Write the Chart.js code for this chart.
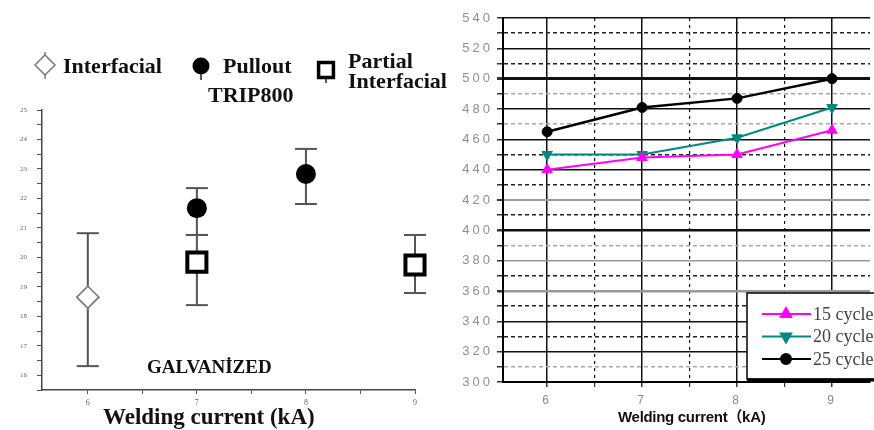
<!DOCTYPE html>
<html>
<head>
<meta charset="utf-8">
<script src="https://cdn.jsdelivr.net/npm/chart.js@4.4.0/dist/chart.umd.min.js"></script>
<style>
  html, body { margin: 0; padding: 0; background: #fff; }
  body { width: 874px; height: 430px; overflow: hidden; position: relative; }
  .panel { position: absolute; top: 0; height: 430px; }
  #leftBox { left: 0; width: 460px; }
  #rightBox { left: 440px; width: 437px; }
</style>
</head>
<body>
<div class="panel" id="leftBox"><canvas id="leftChart"></canvas></div>
<div class="panel" id="rightBox"><canvas id="rightChart"></canvas></div>
<script>
// welding current, kA
const currents = [6, 7, 8, 9];

// left panel - TRIP800 galvanized, load by failure mode
const interfacialX = [6];
const interfacialLoad = [18.65];
const interfacialLow = [16.31];
const interfacialHigh = [20.82];

const pulloutX = [7, 8];
const pulloutLoad = [21.67, 22.83];
const pulloutLow = [20.76, 21.81];
const pulloutHigh = [22.35, 23.68];

const partialX = [7, 9];
const partialLoad = [19.84, 19.74];
const partialLow = [18.38, 18.79];
const partialHigh = [20.76, 20.76];

const leftYLabels = [16, 17, 18, 19, 20, 21, 22, 23, 24, 25];

// right panel - three weld times
const cycleNames = ['15 cycles', '20 cycles', '25 cycles'];
const cycles15 = [440, 448, 450, 466];
const cycles20 = [450, 450, 461, 481];
const cycles25 = [465, 481, 487, 500];

const rightYLabels = [300, 320, 340, 360, 380, 400, 420, 440, 460, 480, 500, 520, 540];

// styling of the scanned grid
const greyMajor = [420, 380, 360];
const heavyMajor = { 500: 3, 400: 2.5, 360: 2.5, 420: 2 };
const faintDash = [490, 470, 390, 310];

const pts = (xs, ys) => xs.map((x, i) => ({ x, y: ys[i] }));
const bars = (xs, lo, hi) => xs.flatMap((x, i) => [{ x, y: lo[i] }, { x, y: hi[i] }, { x, y: null }]);

const serif = '"Liberation Serif", "Times New Roman", serif';

// legend + annotations of the left panel
const leftText = {
  id: 'leftText',
  afterDraw(chart) {
    const ctx = chart.ctx;
    const draw = Chart.helpers.drawPoint;
    ctx.save();

    // diamond
    ctx.strokeStyle = '#777';
    ctx.lineWidth = 1.5;
    ctx.beginPath(); ctx.moveTo(45, 52); ctx.lineTo(45, 79); ctx.stroke();
    ctx.fillStyle = '#fff';
    draw(ctx, { pointStyle: 'rectRot', radius: 10, borderWidth: 1.5 }, 45, 65);

    // circle
    ctx.strokeStyle = '#222';
    ctx.beginPath(); ctx.moveTo(201, 66); ctx.lineTo(201, 80); ctx.stroke();
    ctx.fillStyle = '#000';
    draw(ctx, { pointStyle: 'circle', radius: 8.5, borderWidth: 0 }, 201, 66);

    // square
    ctx.beginPath(); ctx.moveTo(326, 70); ctx.lineTo(326, 83); ctx.stroke();
    ctx.fillStyle = '#fff';
    ctx.strokeStyle = '#000';
    ctx.lineWidth = 3.5;
    draw(ctx, { pointStyle: 'rect', radius: 10.5, borderWidth: 3.5 }, 326, 70);

    ctx.fillStyle = '#111';
    ctx.textAlign = 'left';
    ctx.textBaseline = 'alphabetic';
    ctx.font = 'bold 22px ' + serif;
    ctx.fillText('Interfacial', 63, 73);
    ctx.fillText('Pullout', 223, 73);
    ctx.fillText('Partial', 348, 68);
    ctx.fillText('Interfacial', 348, 88);
    ctx.fillText('TRIP800', 208, 102);

    ctx.font = 'bold 19px ' + serif;
    ctx.fillText('GALVANİZED', 147, 373);

    ctx.font = 'bold 23px ' + serif;
    ctx.fillText('Welding current (kA)', 103, 424);
    ctx.restore();
  }
};

new Chart(document.getElementById('leftChart'), {
  type: 'scatter',
  data: {
    datasets: [
      {
        label: 'Interfacial',
        data: pts(interfacialX, interfacialLoad),
        pointStyle: 'rectRot',
        pointRadius: 11,
        pointBorderWidth: 1.8,
        pointBorderColor: '#808080',
        pointBackgroundColor: '#fff',
        clip: false,
        order: 0
      },
      {
        label: 'Pullout',
        data: pts(pulloutX, pulloutLoad),
        pointStyle: 'circle',
        pointRadius: 10,
        pointBorderWidth: 0,
        pointBackgroundColor: '#000',
        clip: false,
        order: 0
      },
      {
        label: 'Partial Interfacial',
        data: pts(partialX, partialLoad),
        pointStyle: 'rect',
        pointRadius: 13.5,
        pointBorderWidth: 4,
        pointBorderColor: '#000',
        pointBackgroundColor: '#fff',
        clip: false,
        order: 0
      },
      {
        label: 'error',
        data: bars(interfacialX, interfacialLow, interfacialHigh)
          .concat(bars(pulloutX, pulloutLow, pulloutHigh))
          .concat(bars(partialX, partialLow, partialHigh)),
        showLine: true,
        spanGaps: false,
        borderColor: '#555',
        borderWidth: 2,
        pointStyle: 'line',
        pointRadius: 11,
        pointBorderColor: '#555',
        pointBorderWidth: 2,
        clip: false,
        order: 1
      }
    ]
  },
  options: {
    responsive: true,
    maintainAspectRatio: false,
    animation: false,
    events: [],
    layout: { padding: { top: 110, right: 45, bottom: 0, left: 0 } },
    plugins: { legend: { display: false }, tooltip: { enabled: false } },
    scales: {
      x: {
        type: 'linear',
        min: 5.58,
        max: 9,
        afterFit: s => { s.height = 40; },
        ticks: {
          stepSize: 0.5,
          includeBounds: false,
          autoSkip: false,
          maxRotation: 0,
          padding: 4,
          color: '#666',
          font: { size: 8, family: serif },
          callback: v => currents.includes(v) ? v : ''
        },
        grid: { drawOnChartArea: false, tickLength: 4, color: '#555' },
        border: { color: '#444', width: 1.5 }
      },
      y: {
        min: 15.5,
        max: 25,
        afterFit: s => { s.width = 42; },
        ticks: {
          stepSize: 0.5,
          autoSkip: false,
          padding: 10,
          color: '#666',
          font: { size: 7, family: serif },
          callback: v => leftYLabels.includes(v) ? v : ''
        },
        grid: { drawOnChartArea: false, tickLength: 5, color: '#555' },
        border: { color: '#444', width: 1.5 }
      }
    }
  },
  plugins: [leftText]
});

// right panel: legend box and axis title
const rightText = {
  id: 'rightText',
  beforeDraw(chart) {
    chart.ctx.letterSpacing = '3px';
  },
  afterDraw(chart) {
    const ctx = chart.ctx;
    ctx.save();
    ctx.letterSpacing = '0px';
    const x0 = 307, y0 = 293, w = 140, h = 86;
    ctx.fillStyle = '#fff';
    ctx.fillRect(x0, y0, w, h);
    ctx.strokeStyle = '#000';
    ctx.lineWidth = 1.5;
    ctx.strokeRect(x0, y0, w, h);
    ctx.lineWidth = 3;
    ctx.beginPath(); ctx.moveTo(x0, y0 + h + 1); ctx.lineTo(x0 + w, y0 + h + 1); ctx.stroke();

    chart.data.datasets.forEach((ds, i) => {
      const y = 314 + i * 22.5;
      ctx.strokeStyle = ds.borderColor;
      ctx.lineWidth = 2;
      ctx.beginPath(); ctx.moveTo(322, y); ctx.lineTo(371, y); ctx.stroke();
      ctx.fillStyle = ds.pointBackgroundColor;
      ctx.strokeStyle = ds.borderColor;
      Chart.helpers.drawPoint(ctx, {
        pointStyle: ds.pointStyle,
        rotation: ds.pointRotation || 0,
        radius: ds.pointRadius,
        borderWidth: 1
      }, 346, y);
      ctx.fillStyle = '#444';
      ctx.font = '18px ' + serif;
      ctx.textBaseline = 'middle';
      ctx.fillText(ds.label, 373, y + 1);
    });

    ctx.fillStyle = '#111';
    ctx.textBaseline = 'alphabetic';
    ctx.font = 'bold 15px "Liberation Sans", "Noto Sans CJK SC", sans-serif';
    ctx.letterSpacing = '-0.3px';
    ctx.fillText('Welding current（kA)', 178, 422);
    ctx.restore();
  }
};

const series = [cycles15, cycles20, cycles25];
const colors = ['#ff00ff', '#00897e', '#000000'];
const styles = ['triangle', 'triangle', 'circle'];
const rotations = [0, 180, 0];
const radii = [6, 6, 5];

new Chart(document.getElementById('rightChart'), {
  type: 'scatter',
  data: {
    datasets: series.map((vals, i) => ({
      label: cycleNames[i],
      data: pts(currents, vals),
      showLine: true,
      borderColor: colors[i],
      borderWidth: i === 2 ? 2.5 : 2,
      pointStyle: styles[i],
      pointRotation: rotations[i],
      pointRadius: radii[i],
      pointBackgroundColor: colors[i],
      pointBorderColor: colors[i],
      pointBorderWidth: 1
    }))
  },
  options: {
    responsive: true,
    maintainAspectRatio: false,
    animation: false,
    events: [],
    layout: { padding: { top: 18, right: 0, bottom: 0, left: 0 } },
    plugins: { legend: { display: false }, tooltip: { enabled: false } },
    scales: {
      x: {
        type: 'linear',
        min: 5.535,
        max: 9.4,
        afterFit: s => { s.height = 48; },
        ticks: {
          stepSize: 0.5,
          includeBounds: false,
          autoSkip: false,
          maxRotation: 0,
          padding: 6,
          color: '#8a8a8a',
          font: { size: 12, family: '"Liberation Sans", Arial, sans-serif' },
          callback: v => currents.includes(v) ? v : ''
        },
        grid: {
          color: '#111',
          lineWidth: c => (c.tick && Number.isInteger(c.tick.value)) ? 1.5 : 1.2,
          tickLength: 5,
          tickColor: '#333',
          tickBorderDash: []
        },
        border: {
          color: '#000',
          width: 2,
          dash: c => (c.tick && !Number.isInteger(c.tick.value)) ? [3, 4] : []
        }
      },
      y: {
        min: 300,
        max: 540,
        afterFit: s => { s.width = 63; },
        ticks: {
          stepSize: 10,
          autoSkip: false,
          padding: 4,
          color: '#8f8f8f',
          font: { size: 13, family: '"Liberation Sans", Arial, sans-serif' },
          callback: v => rightYLabels.includes(v) ? v : ''
        },
        grid: {
          color: c => {
            const v = c.tick ? c.tick.value : 0;
            if (v % 20 === 0) return greyMajor.includes(v) ? '#9a9a9a' : '#111';
            return faintDash.includes(v) ? '#a8a8a8' : '#222';
          },
          lineWidth: c => {
            const v = c.tick ? c.tick.value : 0;
            return v % 20 === 0 ? (heavyMajor[v] || 1.5) : 1.5;
          },
          tickLength: 6,
          tickColor: '#333',
          tickBorderDash: []
        },
        border: {
          color: '#000',
          width: 2,
          dash: c => (c.tick && c.tick.value % 20 !== 0) ? [4, 3] : []
        }
      }
    }
  },
  plugins: [rightText]
});
</script>
</body>
</html>
